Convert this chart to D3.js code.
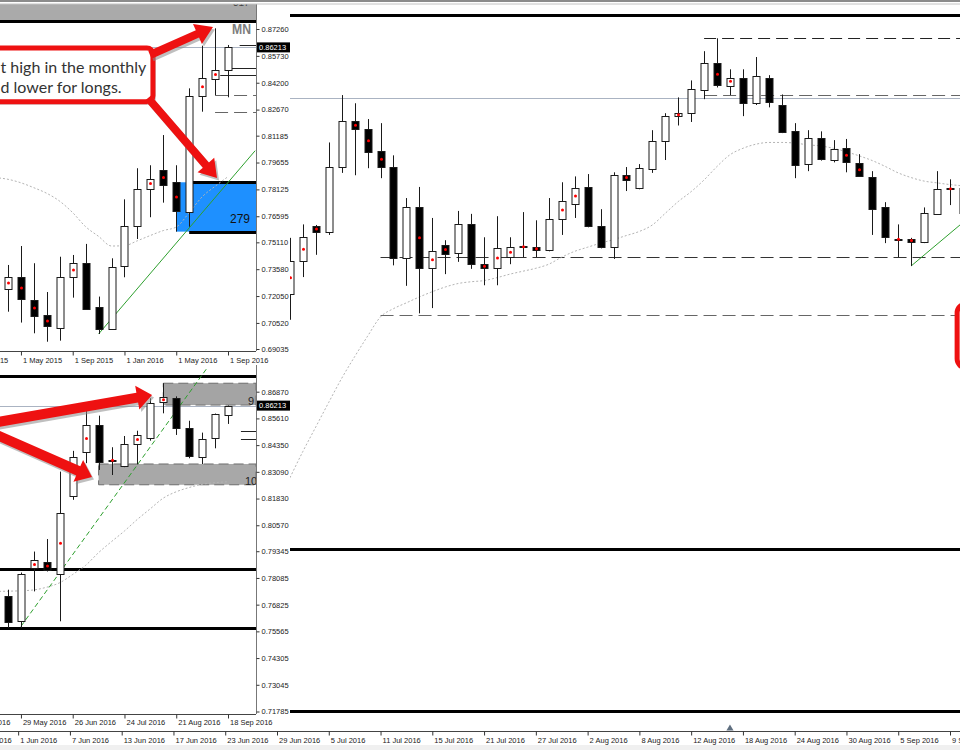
<!DOCTYPE html>
<html><head><meta charset="utf-8">
<script src="https://cdn.jsdelivr.net/npm/d3@7/dist/d3.min.js"></script>
<style>
html,body{margin:0;padding:0;background:#fff;}
svg{display:block;}
</style></head>
<body>
<svg id="chart" width="960" height="750"></svg>
<script>
// ================= DATA =================
// Monthly window (MN), candles Apr 2015 .. Sep 2016 (index 0..17)
const mnOpen  = [0.7244,0.7315,0.7183,0.7096,0.7022,0.7315,0.7392,0.7145,0.7016,0.7378,0.7604,0.7819,0.7923,0.7853,0.7686,0.8346,0.8441,0.8493];
const mnHigh  = [0.7382,0.7490,0.7392,0.7228,0.7429,0.7439,0.7502,0.7202,0.7420,0.7756,0.7933,0.7950,0.8122,0.7950,0.8388,0.8631,0.8730,0.8635];
const mnLow   = [0.7116,0.7054,0.6993,0.6945,0.6951,0.7196,0.7126,0.6989,0.7012,0.7312,0.7530,0.7654,0.7737,0.7572,0.7600,0.8255,0.8350,0.8337];
const mnClose = [0.7315,0.7188,0.7092,0.7031,0.7312,0.7392,0.7131,0.7022,0.7369,0.7604,0.7817,0.7874,0.7838,0.7686,0.8346,0.8449,0.8493,0.8622];
const mnDots  = [0,1,2,3,5,11,12,13,15,16];
const mnMAStart = -1;
const mnMA    = [0.7880,0.7870,0.7850,0.7822,0.7790,0.7745,0.7680,0.7600,0.7545,0.7490,0.7492,0.7520,0.7550,0.7578,0.7598,0.7680,0.7770,0.7830,0.7885];
const mnTicks = [0.87260,0.85730,0.84200,0.82670,0.81185,0.79655,0.78125,0.76595,0.75110,0.73580,0.72050,0.70520,0.69035];
const mnDateLabels = ["1 Jan 2015","1 May 2015","1 Sep 2015","1 Jan 2016","1 May 2016","1 Sep 2016"];

// Weekly window (W1), candles 22 May 2016 .. 18 Sep 2016 (index 0..17)
const w1Open  = [0.7725,0.7604,0.7852,0.7883,0.7828,0.8197,0.8402,0.8530,0.8365,0.8339,0.8441,0.8468,0.8637,0.8656,0.8515,0.8378,0.8468,0.8577];
const w1High  = [0.7753,0.7834,0.7933,0.7992,0.8310,0.8408,0.8601,0.8574,0.8425,0.8478,0.8503,0.8656,0.8727,0.8665,0.8550,0.8494,0.8584,0.8622];
const w1Low   = [0.7572,0.7572,0.7745,0.7839,0.7604,0.8177,0.8350,0.8318,0.8294,0.8331,0.8345,0.8456,0.8585,0.8483,0.8373,0.8346,0.8420,0.8535];
const w1Close = [0.7601,0.7828,0.7891,0.7847,0.8117,0.8381,0.8530,0.8357,0.8362,0.8441,0.8482,0.8635,0.8661,0.8515,0.8384,0.8463,0.8581,0.8620];
const w1Dots  = [2,3,4,6,8,10,12];
const w1MAStart = -1;
const w1MA    = [0.7745,0.7746,0.7748,0.7752,0.7765,0.7786,0.7825,0.7868,0.7928,0.7980,0.8030,0.8085,0.8135,0.8185,0.8215,0.8235,0.8250,0.8258,0.8262];
const w1Ticks = [0.86870,0.85610,0.84350,0.83090,0.81830,0.80570,0.79345,0.78085,0.76825,0.75565,0.74305,0.73045,0.71785];
const w1DateLabels = ["1 May 2016","29 May 2016","26 Jun 2016","24 Jul 2016","21 Aug 2016","18 Sep 2016"];

// Daily window (D1), index 0 = 29 Jun 2016; data from index 1 (30 Jun) .. 53
const d1Start = 1;
const d1Open  = [0.8287,0.8343,0.8403,0.8393,0.8504,0.8582,0.8569,0.8531,0.8504,0.8348,0.8435,0.8331,0.8371,0.8357,0.8406,0.8338,0.8331,0.8350,0.8367,0.8367,0.8362,0.8415,0.8441,0.8470,0.8403,0.8367,0.8490,0.8468,0.8500,0.8548,0.8591,0.8596,0.8635,0.8681,0.8644,0.8657,0.8613,0.8656,0.8610,0.8565,0.8509,0.8553,0.8516,0.8536,0.8511,0.8487,0.8435,0.8380,0.8381,0.8376,0.8424,0.8466,0.8468];
const d1High  = [0.8383,0.8406,0.8405,0.8546,0.8627,0.8613,0.8586,0.8579,0.8524,0.8451,0.8470,0.8417,0.8379,0.8429,0.8424,0.8384,0.8420,0.8384,0.8427,0.8413,0.8451,0.8478,0.8488,0.8492,0.8432,0.8495,0.8504,0.8509,0.8567,0.8596,0.8623,0.8652,0.8702,0.8724,0.8671,0.8671,0.8692,0.8661,0.8628,0.8579,0.8567,0.8565,0.8550,0.8552,0.8526,0.8497,0.8444,0.8406,0.8383,0.8435,0.8497,0.8483,0.8482];
const d1Low   = [0.8243,0.8316,0.8354,0.8388,0.8494,0.8490,0.8502,0.8485,0.8336,0.8301,0.8254,0.8263,0.8321,0.8342,0.8330,0.8302,0.8302,0.8338,0.8350,0.8350,0.8360,0.8388,0.8417,0.8401,0.8365,0.8347,0.8463,0.8466,0.8494,0.8516,0.8575,0.8581,0.8620,0.8640,0.8627,0.8591,0.8610,0.8606,0.8562,0.8485,0.8497,0.8515,0.8512,0.8495,0.8487,0.8388,0.8374,0.8350,0.8335,0.8374,0.8423,0.8439,0.8413];
const d1Close = [0.8343,0.8384,0.8393,0.8504,0.8582,0.8569,0.8529,0.8504,0.8348,0.8435,0.8331,0.8360,0.8355,0.8406,0.8338,0.8331,0.8366,0.8367,0.8369,0.8362,0.8415,0.8446,0.8468,0.8403,0.8367,0.8490,0.8482,0.8502,0.8548,0.8591,0.8596,0.8637,0.8681,0.8644,0.8657,0.8615,0.8659,0.8615,0.8564,0.8507,0.8553,0.8517,0.8534,0.8512,0.8488,0.8432,0.8384,0.8381,0.8376,0.8425,0.8466,0.8468,0.8425];
const d1Dots  = [1,2,3,6,7,8,11,12,13,16,17,18,19,20,22,23,27,31,34,35,44,45,48,49,52];
const d1MA    = [0.7973,0.8018,0.8060,0.8102,0.8143,0.8180,0.8215,0.8248,0.8262,0.8272,0.8282,0.8291,0.8299,0.8305,0.8308,0.8310,0.8315,0.8321,0.8326,0.8331,0.8338,0.8350,0.8360,0.8367,0.8374,0.8380,0.8387,0.8394,0.8405,0.8425,0.8445,0.8462,0.8482,0.8505,0.8525,0.8536,0.8543,0.8546,0.8546,0.8545,0.8542,0.8540,0.8536,0.8530,0.8523,0.8515,0.8505,0.8494,0.8486,0.8480,0.8477,0.8474,0.8472];
const d1DateLabels = ["26 May 2016","1 Jun 2016","7 Jun 2016","13 Jun 2016","17 Jun 2016","23 Jun 2016","29 Jun 2016","5 Jul 2016","11 Jul 2016","15 Jul 2016","21 Jul 2016","27 Jul 2016","2 Aug 2016","8 Aug 2016","12 Aug 2016","18 Aug 2016","24 Aug 2016","30 Aug 2016","5 Sep 2016","9 Sep 2016"];

const bidPrice = 0.86213;
const bidText = "0.86213";

// ================= SETUP =================
const svg = d3.select('#chart');
const defs = svg.append('defs');
function clip(id, x, y, w, h){ defs.append('clipPath').attr('id', id).append('rect').attr('x',x).attr('y',y).attr('width',w).attr('height',h); }
clip('cR', 290, 4, 670, 727);
clip('cTL', 0, 4, 256, 347);
clip('cBL', 0, 365, 256, 349);

const FONT = '"Liberation Sans", Arial, sans-serif';

const xMN = d3.scaleLinear().domain([0,17]).range([8,228]);
const yMN = d3.scaleLinear().domain([0.69035,0.87260]).range([349,29]);
const xW1 = d3.scaleLinear().domain([0,17]).range([8,228]);
const yW1 = d3.scaleLinear().domain([0.71785,0.86870]).range([711.5,391.7]);
const xD1 = d3.scaleLinear().domain([0,52]).range([277,950]);
const yD1 = d3.scaleLinear().domain([0.7575,0.8724]).range([710.7,38.3]);

const px = v => Math.round(v) + 0.5;

function hline(g, y, p, x1, x2, color, width, dash){
  const l = g.append('line').attr('x1',x1).attr('x2',x2)
    .attr('y1', width % 2 ? px(y(p)) : Math.round(y(p))).attr('y2', width % 2 ? px(y(p)) : Math.round(y(p)))
    .attr('stroke',color).attr('stroke-width',width);
  if (dash) l.attr('stroke-dasharray', dash);
  return l;
}

function drawCandles(g, x, y, O, Hh, L, C, first, dots){
  const idx = d3.range(O.length);
  g.append('g').selectAll('line').data(idx).join('line')
    .attr('x1', k => px(x(first+k))).attr('x2', k => px(x(first+k)))
    .attr('y1', k => y(Hh[k])).attr('y2', k => y(L[k]))
    .attr('stroke', '#1a1a1a').attr('stroke-width', 1);
  g.append('g').selectAll('rect').data(idx).join('rect')
    .attr('x', k => px(x(first+k)) - 3.5).attr('width', 7)
    .attr('y', k => px(y(Math.max(O[k], C[k]))))
    .attr('height', k => Math.max(1, Math.round(Math.abs(y(O[k]) - y(C[k])))))
    .attr('fill', k => C[k] >= O[k] ? '#fff' : '#000')
    .attr('stroke', '#1a1a1a').attr('stroke-width', 1);
  g.append('g').selectAll('circle').data(dots).join('circle')
    .attr('cx', n => px(x(n))).attr('cy', n => y((O[n-first] + C[n-first]) / 2))
    .attr('r', 1.5).attr('fill', '#ff0000');
}

function drawMA(g, x, y, vals, start){
  g.append('path').datum(vals)
    .attr('d', d3.line().x((d,k) => x(start+k)).y(d => y(d)).curve(d3.curveMonotoneX))
    .attr('fill','none').attr('stroke','#b4b4b4').attr('stroke-width',1).attr('stroke-dasharray','2,2');
}

function drawSeg(g, x, y, a, b, color, dash){
  const l = g.append('line').attr('x1', x(a[0])).attr('y1', y(a[1])).attr('x2', x(b[0])).attr('y2', y(b[1]))
    .attr('stroke', color).attr('stroke-width', 1);
  if (dash) l.attr('stroke-dasharray', dash);
}

function arrowPts(x1,y1,x2,y2,sw,hl,hw){
  const dx=x2-x1, dy=y2-y1, len=Math.hypot(dx,dy), ux=dx/len, uy=dy/len, nx=-uy, ny=ux;
  const bx=x2-ux*hl, by=y2-uy*hl;
  return [[x1+nx*sw/2,y1+ny*sw/2],[bx+nx*sw/2,by+ny*sw/2],[bx+nx*hw/2,by+ny*hw/2],[x2,y2],
          [bx-nx*hw/2,by-ny*hw/2],[bx-nx*sw/2,by-ny*sw/2],[x1-nx*sw/2,y1-ny*sw/2]];
}
function drawArrow(g, x, y, from, to, sw, hl, hw){
  const pts = arrowPts(x(from[0]), y(from[1]), x(to[0]), y(to[1]), sw, hl, hw);
  g.append('polygon').attr('points', pts.map(p => (p[0]+2)+','+(p[1]+2.5)).join(' '))
    .attr('fill','#8a8a8a').attr('opacity',0.55);
  g.append('polygon').attr('points', pts.map(p => p[0]+','+p[1]).join(' '))
    .attr('fill','#ee1111');
}

function styleAxis(a){
  a.attr('font-family', FONT).attr('font-size', 7.5);
  a.select('.domain').remove();
  a.selectAll('line').attr('stroke','#333');
  a.selectAll('text').attr('fill','#222');
}

// ================= DAILY (BACK) WINDOW =================
const gR = svg.append('g').attr('clip-path','url(#cR)');
hline(gR, yD1, 0.8764, 290, 960, '#000', 3);
hline(gR, yD1, bidPrice, 290, 960, '#aab3c2', 1);
hline(gR, yD1, 0.8724, xD1(33), 960, '#222', 1, '12,6');
hline(gR, yD1, 0.8627, xD1(33), 960, '#666', 1.2, '13,6');
hline(gR, yD1, 0.8350, xD1(8), 960, '#333', 1.2, '13,6');
hline(gR, yD1, 0.8252, xD1(8), 960, '#666', 1.2, '13,6');
hline(gR, yD1, 0.7852, 290, 960, '#000', 3);
hline(gR, yD1, 0.7575, 290, 960, '#000', 3);
drawMA(gR, xD1, yD1, d1MA, d1Start);
drawSeg(gR, xD1, yD1, [49,0.8335], [56,0.8465], '#2ea02e');
drawCandles(gR, xD1, yD1, d1Open, d1High, d1Low, d1Close, d1Start, d1Dots);
// red annotation box edge at the right border
gR.append('rect').attr('x', xD1(52.55)).attr('y', yD1(0.8270)).attr('width', 60)
  .attr('height', yD1(0.8161) - yD1(0.8270)).attr('rx', 9)
  .attr('fill','#fff').attr('stroke','#ee1111').attr('stroke-width',5);

// daily time axis (visible across the full width)
svg.append('line').attr('x1',0).attr('x2',960).attr('y1',731.5).attr('y2',731.5).attr('stroke','#444');
const axD = svg.append('g').attr('transform','translate(0,731.5)')
  .call(d3.axisBottom(xD1).tickValues(d1DateLabels.map((d,k) => -24 + 4*k))
        .tickFormat((d,k) => d1DateLabels[k]).tickSize(4).tickPadding(2));
styleAxis(axD);
axD.selectAll('text').attr('text-anchor','start').attr('dx', 1.5);
svg.append('path').attr('d', d3.symbol(d3.symbolTriangle, 22)())
  .attr('transform', `translate(${xD1(35)},728.5)`).attr('fill','#5f6f80');

// ================= LEFT WINDOWS =================
svg.append('rect').attr('x',0).attr('y',0).attr('width',290).attr('height',729).attr('fill','#fff');

// ---- Monthly ----
const gT = svg.append('g').attr('clip-path','url(#cTL)');
gT.append('rect').attr('x',0).attr('width',256).attr('y', yMN(0.8950)).attr('height', yMN(0.8777) - yMN(0.8950)).attr('fill','#aaaaaa');
hline(gT, yMN, 0.8772, 0, 256, '#000', 3);
hline(gT, yMN, bidPrice, 0, 256, '#aab3c2', 1);
gT.append('rect').attr('x', xMN(13)).attr('width', 256 - xMN(13))
  .attr('y', yMN(0.7853)).attr('height', yMN(0.7572) - yMN(0.7853)).attr('fill','#1e90ff');
hline(gT, yMN, 0.7853, xMN(14), 256, '#000', 3);
hline(gT, yMN, 0.7572, xMN(14), 256, '#000', 3);
hline(gT, yMN, 0.8350, xMN(16), 256, '#666', 1.2, '13,6');
hline(gT, yMN, 0.8255, xMN(16), 256, '#666', 1.2, '13,6');
hline(gT, yMN, 0.8635, xMN(17.9), 256, '#222', 1);
hline(gT, yMN, 0.8506, xMN(17), 256, '#222', 1);
hline(gT, yMN, 0.8464, xMN(16.4), 256, '#222', 1);
drawMA(gT, xMN, yMN, mnMA, mnMAStart);
drawSeg(gT, xMN, yMN, [7,0.6989], [19.1,0.8033], '#2ea02e');
drawCandles(gT, xMN, yMN, mnOpen, mnHigh, mnLow, mnClose, 0, mnDots);
gT.append('text').attr('x', 250).attr('y', yMN(0.7620)).attr('text-anchor','end')
  .attr('font-family', FONT).attr('font-size', 12).attr('fill','#111').text('279');
gT.append('text').attr('x', 232).attr('y', 34).attr('font-family', FONT).attr('font-weight','bold')
  .attr('font-size', 15).attr('fill','#7d7d7d').attr('textLength', 19).attr('lengthAdjust','spacingAndGlyphs').text('MN');
gT.append('text').attr('x', 233).attr('y', 6).attr('font-family', FONT).attr('font-size', 10).attr('fill','#444').text('317');

// annotation box + arrows
const boxL = xMN(-2.2), boxR = xMN(11.2), boxT = yMN(0.8618), boxB = yMN(0.8312);
gT.append('rect').attr('x', boxL+3).attr('y', boxT+3).attr('width', boxR-boxL).attr('height', boxB-boxT).attr('rx',6).attr('fill','#999').attr('opacity',0.5);
gT.append('rect').attr('x', boxL).attr('y', boxT).attr('width', boxR-boxL).attr('height', boxB-boxT).attr('rx',6)
  .attr('fill','#fff').attr('stroke','#ee1111').attr('stroke-width',5);
gT.append('text').attr('x', boxL+21).attr('y', boxT+25).attr('font-family','Lato, "Open Sans", sans-serif').attr('font-size',16).attr('fill','#333').text('t high in the monthly');
gT.append('text').attr('x', boxL+21).attr('y', boxT+45).attr('font-family','Lato, "Open Sans", sans-serif').attr('font-size',16).attr('fill','#333').text('d lower for longs.');
drawArrow(gT, xMN, yMN, [10.97,0.8578], [15.84,0.8737], 8, 17, 22);
drawArrow(gT, xMN, yMN, [10.82,0.8333], [16.15,0.7878], 8, 17, 22);

// monthly axes
svg.append('line').attr('x1',256.5).attr('x2',256.5).attr('y1',4).attr('y2',351).attr('stroke','#777');
svg.append('line').attr('x1',0).attr('x2',256).attr('y1',351.5).attr('y2',351.5).attr('stroke','#444');
const ayT = svg.append('g').attr('transform','translate(256.5,0)')
  .call(d3.axisRight(yMN).tickValues(mnTicks).tickFormat(d3.format('.5f')).tickSize(3).tickPadding(2));
styleAxis(ayT);
const axT = svg.append('g').attr('transform','translate(0,351.5)')
  .call(d3.axisBottom(xMN).tickValues(mnDateLabels.map((d,k) => -3 + 4*k)).tickFormat((d,k) => mnDateLabels[k]).tickSize(4).tickPadding(2));
styleAxis(axT);
axT.selectAll('text').attr('text-anchor','start').attr('dx',1.5);
svg.append('rect').attr('x',257).attr('y', yMN(bidPrice)-5).attr('width',33).attr('height',10).attr('fill','#000');
svg.append('text').attr('x',259).attr('y', yMN(bidPrice)+2.7).attr('font-family',FONT).attr('font-size',7.5).attr('fill','#fff').text(bidText);

// ---- Weekly ----
const gB = svg.append('g').attr('clip-path','url(#cBL)');
hline(gB, yW1, 0.8762, 0, 256, '#000', 3);
gB.append('rect').attr('x', xW1(12)).attr('width', 256 - xW1(12)).attr('y', yW1(0.8727)).attr('height', yW1(0.8624) - yW1(0.8727))
  .attr('fill','#a4a4a4').attr('stroke','#6e6e6e').attr('stroke-dasharray','10,5');
gB.append('rect').attr('x', xW1(7)).attr('width', 256 - xW1(7)).attr('y', yW1(0.8346)).attr('height', yW1(0.8248) - yW1(0.8346))
  .attr('fill','#a8a8a8').attr('stroke','#6e6e6e').attr('stroke-dasharray','10,5');
hline(gB, yW1, bidPrice, 0, 256, '#aab3c2', 1);
hline(gB, yW1, 0.7850, 0, 256, '#000', 3);
hline(gB, yW1, 0.7572, 0, 256, '#000', 3);
hline(gB, yW1, 0.8502, xW1(18), 256, '#222', 1);
hline(gB, yW1, 0.8464, xW1(18), 256, '#222', 1);
drawMA(gB, xW1, yW1, w1MA, w1MAStart);
drawSeg(gB, xW1, yW1, [1,0.7580], [15.4,0.8800], '#2ea02e', '5,3');
drawCandles(gB, xW1, yW1, w1Open, w1High, w1Low, w1Close, 0, w1Dots);
gB.append('text').attr('x', 248).attr('y', yW1(0.8624)).attr('font-family', FONT).attr('font-size', 11).attr('fill','#222').text('9');
gB.append('text').attr('x', 245).attr('y', yW1(0.8246)).attr('font-family', FONT).attr('font-size', 11).attr('fill','#222').text('10');
drawArrow(gB, xW1, yW1, [-1.2,0.8540], [11.13,0.8671], 10, 15, 24);
drawArrow(gB, xW1, yW1, [-1.2,0.8492], [6.49,0.8285], 10, 15, 24);

svg.append('line').attr('x1',256.5).attr('x2',256.5).attr('y1',365).attr('y2',714).attr('stroke','#777');
svg.append('line').attr('x1',0).attr('x2',256).attr('y1',714.5).attr('y2',714.5).attr('stroke','#444');
const ayB = svg.append('g').attr('transform','translate(256.5,0)')
  .call(d3.axisRight(yW1).tickValues(w1Ticks).tickFormat(d3.format('.5f')).tickSize(3).tickPadding(2));
styleAxis(ayB);
const axB = svg.append('g').attr('transform','translate(0,714.5)')
  .call(d3.axisBottom(xW1).tickValues(w1DateLabels.map((d,k) => -3 + 4*k)).tickFormat((d,k) => w1DateLabels[k]).tickSize(4).tickPadding(1));
styleAxis(axB);
axB.selectAll('text').attr('text-anchor','start').attr('dx',1.5);
svg.append('rect').attr('x',257).attr('y', yW1(bidPrice)-5).attr('width',33).attr('height',10).attr('fill','#000');
svg.append('text').attr('x',259).attr('y', yW1(bidPrice)+2.7).attr('font-family',FONT).attr('font-size',7.5).attr('fill','#fff').text(bidText);

// ================= FRAME =================
svg.append('rect').attr('x',0).attr('y',0).attr('width',960).attr('height',2).attr('fill','#8c8c8c');
svg.append('line').attr('x1',0).attr('x2',960).attr('y1',4).attr('y2',4).attr('stroke','#c4c4c4');
svg.append('rect').attr('x',0).attr('y',745).attr('width',960).attr('height',5).attr('fill','#f0f0f0');
</script>
</body></html>
